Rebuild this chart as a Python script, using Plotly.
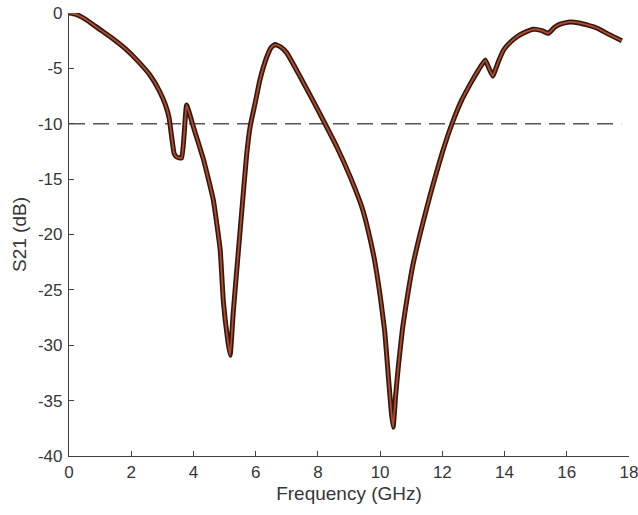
import plotly.graph_objects as go

freq_ghz = [0, 0.2, 0.4, 0.6, 0.8, 1.0, 1.4, 1.8, 2.2, 2.6, 2.9, 3.1, 3.22, 3.3, 3.38,
            3.46, 3.62, 3.7, 3.78, 4.0, 4.32, 4.64, 4.86, 4.96, 5.1, 5.18, 5.28, 5.39,
            5.55, 5.71, 5.82, 6.0, 6.14, 6.36, 6.5, 6.62, 6.8, 7.0, 7.43, 7.86, 8.23,
            8.61, 9.04, 9.41, 9.57, 9.8, 10.0, 10.15, 10.27, 10.36, 10.42, 10.5,
            10.59, 10.72, 10.86, 11.05, 11.29, 11.5, 11.71, 12.0, 12.31, 12.6, 12.9,
            13.15, 13.38, 13.5, 13.62, 13.8, 13.97, 14.2, 14.4, 14.65, 14.93, 15.2,
            15.41, 15.6, 15.79, 16.1, 16.4, 16.65, 17.0, 17.29, 17.55, 17.77]
s21_db = [0, -0.1, -0.35, -0.7, -1.1, -1.5, -2.3, -3.2, -4.3, -5.6, -7.0, -8.3, -9.5,
          -11.2, -12.7, -13.0, -13.1, -11.0, -8.3, -10.3, -13.2, -16.9, -21.4, -26.0,
          -29.5, -30.9, -27.0, -23.3, -18.0, -12.8, -10.3, -7.9, -6.0, -3.95, -3.1,
          -2.85, -3.05, -3.6, -5.75, -8.0, -10.0, -12.1, -14.8, -17.5, -19.1, -22.0,
          -25.5, -28.8, -33.0, -36.0, -37.4, -34.5, -31.8, -28.5, -25.9, -22.8,
          -19.9, -17.6, -15.4, -12.6, -10.0, -8.0, -6.4, -5.2, -4.25, -5.0, -5.7, -4.4,
          -3.34, -2.6, -2.14, -1.75, -1.47, -1.6, -1.84, -1.3, -1.0, -0.81, -0.9,
          -1.08, -1.4, -1.84, -2.2, -2.5]

threshold_x = [0, 17.75]
threshold_y = [-10, -10]

x_ticks = [0, 2, 4, 6, 8, 10, 12, 14, 16, 18]
y_ticks = [0, -5, -10, -15, -20, -25, -30, -35, -40]

FONT = "Liberation Sans, Arial, sans-serif"

fig = go.Figure()
fig.add_trace(go.Scatter(x=threshold_x, y=threshold_y, mode="lines",
                         line=dict(color="#555555", width=1.6, dash="16px,8px"),
                         hoverinfo="skip", showlegend=False))
fig.add_trace(go.Scatter(x=freq_ghz, y=s21_db, mode="lines",
                         line=dict(color="#2e1a12", width=5, shape="spline", smoothing=0.35),
                         showlegend=False))
fig.add_trace(go.Scatter(x=freq_ghz, y=s21_db, mode="lines",
                         line=dict(color="#b5492a", width=1.8, shape="spline", smoothing=0.35),
                         showlegend=False))

axis_common = dict(showgrid=False, zeroline=False, showline=True, linecolor="#404040",
                   linewidth=1.2, ticks="inside", ticklen=5, tickcolor="#404040",
                   tickfont=dict(family=FONT, size=17, color="#363636"),
                   ticklabeloverflow="allow", mirror=False, automargin=False)

fig.update_layout(
    width=638, height=515,
    margin=dict(l=69, r=9, t=13, b=59),
    paper_bgcolor="white", plot_bgcolor="white",
    xaxis=dict(range=[0, 18], tickvals=x_ticks, ticktext=[str(v) for v in x_ticks],
               title=dict(text="Frequency (GHz)", standoff=6,
                          font=dict(family=FONT, size=19, color="#363636")),
               **axis_common),
    yaxis=dict(range=[-40, 0], tickvals=y_ticks, ticktext=[str(v) for v in y_ticks],
               ticklabelstandoff=2,
               title=dict(text="S21 (dB)", standoff=6,
                          font=dict(family=FONT, size=19, color="#363636")),
               **axis_common),
)

fig.write_html("out.html")
